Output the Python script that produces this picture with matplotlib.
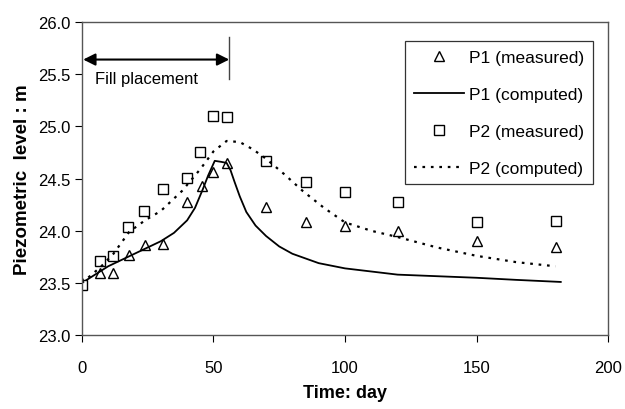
import numpy as np
import matplotlib.pyplot as plt

plt.rcParams['font.family'] = ['Liberation Sans', 'DejaVu Sans']

# measured values
p1_days = [0, 7, 12, 18, 24, 31, 40, 45.5, 50, 55, 70, 85, 100, 120, 150, 180]
p1_meas = [23.5, 23.6, 23.6, 23.77, 23.86, 23.87, 24.28, 24.43, 24.56, 24.65,
           24.23, 24.08, 24.05, 24.0, 23.9, 23.84]
p2_days = [0, 7, 12, 17.5, 23.5, 31, 40, 45, 50, 55, 70, 85, 100, 120, 150, 180]
p2_meas = [23.48, 23.71, 23.76, 24.04, 24.19, 24.4, 24.51, 24.75, 25.1, 25.09,
           24.67, 24.47, 24.37, 24.28, 24.08, 24.09]

# computed curves
p1_ct = [0, 10, 20, 30, 35, 40, 43, 46, 48, 50.5, 53, 55, 56.5, 58, 60, 62.5, 66,
         70, 75, 80, 90, 100, 110, 120, 135, 150, 165, 182]
p1_cv = [23.5, 23.66, 23.78, 23.9, 23.98, 24.1, 24.22, 24.4, 24.53, 24.67, 24.66,
         24.65, 24.58, 24.47, 24.33, 24.18, 24.05, 23.95, 23.85, 23.78, 23.69,
         23.64, 23.61, 23.58, 23.565, 23.55, 23.53, 23.51]
p2_ct = [0, 7, 12, 18, 24, 30, 38, 45, 50, 55, 60, 65, 70, 77, 84, 92, 100, 110,
         120, 135, 150, 165, 180]
p2_cv = [23.5, 23.65, 23.78, 23.99, 24.1, 24.19, 24.38, 24.59, 24.76, 24.86,
         24.85, 24.78, 24.69, 24.54, 24.38, 24.22, 24.08, 24.0, 23.94, 23.84,
         23.76, 23.7, 23.66]

fig = plt.figure(figsize=(6.25, 4.1), dpi=100)
ax = fig.add_axes([0.131, 0.180, 0.842, 0.764])

ax.plot(p1_days, p1_meas, linestyle='none', marker='^', markersize=6.5,
        markerfacecolor='white', markeredgecolor='black', markeredgewidth=1.0,
        label='P1 (measured)')
ax.plot(p1_ct, p1_cv, color='black', linewidth=1.3, label='P1 (computed)')
ax.plot(p2_days, p2_meas, linestyle='none', marker='s', markersize=6.5,
        markerfacecolor='white', markeredgecolor='black', markeredgewidth=1.0,
        label='P2 (measured)')
ax.plot(p2_ct, p2_cv, color='black', linewidth=1.6, linestyle=(0, (1.2, 2.6)),
        label='P2 (computed)')

ax.set_xlim(0, 200)
ax.set_ylim(23.0, 26.0)
ax.set_xticks([0, 50, 100, 150, 200])
ax.set_yticks(np.arange(23.0, 26.01, 0.5))
ax.set_yticklabels([f'{v:.1f}' for v in np.arange(23.0, 26.01, 0.5)])
ax.tick_params(axis='x', direction='out', length=5, pad=13, labelsize=12)
ax.tick_params(axis='y', direction='out', length=5, pad=3, labelsize=12)
for s in ax.spines.values():
    s.set_color('#555555')
    s.set_linewidth(1.0)

ax.set_xlabel('Time: day', fontweight='bold', fontsize=13, labelpad=6)
ax.set_ylabel('Piezometric  level : m', fontweight='bold', fontsize=13.5, labelpad=5)

# fill placement annotation
ax.annotate('', xy=(0.5, 25.64), xytext=(56, 25.64),
            arrowprops=dict(arrowstyle='<|-|>', color='black', lw=1.5,
                            mutation_scale=18, shrinkA=0, shrinkB=0))
ax.plot([56, 56], [25.45, 25.86], color='#444444', linewidth=1.0)
ax.text(5, 25.46, 'Fill placement', fontsize=12, va='center', ha='left')

leg = ax.legend(loc='upper right', bbox_to_anchor=(0.971, 0.938), fontsize=12.5,
                frameon=True, fancybox=False, edgecolor='black', handlelength=2.9,
                handletextpad=0.3, labelspacing=1.25, borderpad=0.5,
                borderaxespad=0, markerfirst=True)
leg.get_frame().set_linewidth(0.9)

fig.savefig('out.png', dpi=100)
